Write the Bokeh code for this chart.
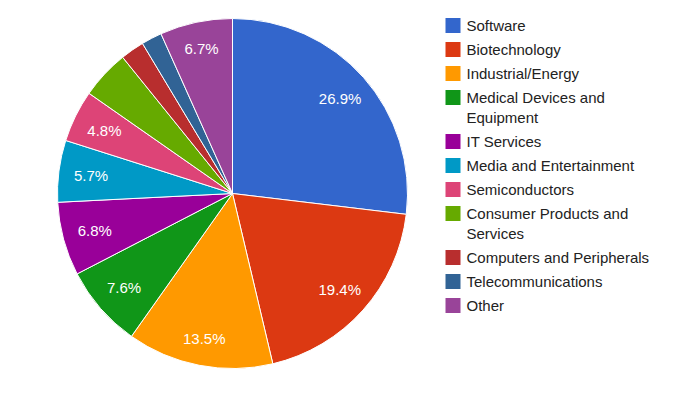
import math
from bokeh.plotting import figure
from bokeh.models import Range1d, ColumnDataSource
from bokeh.core.properties import value
from bokeh.embed import file_html
from bokeh.resources import INLINE

categories = ["Software", "Biotechnology", "Industrial/Energy", "Medical Devices and\nEquipment",
              "IT Services", "Media and Entertainment", "Semiconductors",
              "Consumer Products and\nServices", "Computers and Peripherals",
              "Telecommunications", "Other"]
values = [26.9, 19.4, 13.5, 7.6, 6.8, 5.7, 4.8, 4.5, 2.2, 1.9, 6.7]
colors = ["#3366cc", "#dc3912", "#ff9900", "#109618", "#990099", "#0099c6",
          "#dd4477", "#66aa00", "#b82e2e", "#316395", "#994499"]
label_threshold = 4.7

W, H = 676, 380
FONT = value("Liberation Sans")
CX, CY, R = 232, 396 - 193, 175

p = figure(width=W, height=H, output_backend="svg", toolbar_location=None,
           x_range=Range1d(0, W), y_range=Range1d(396 - H, 396),
           min_border=0)
p.axis.visible = False
p.grid.visible = False
p.outline_line_color = None
p.background_fill_color = "white"

total = sum(values)
starts, ends, lx, ly, ltxt = [], [], [], [], []
cum = 0.0
for v in values:
    f0 = cum / total
    cum += v
    f1 = cum / total
    starts.append(math.pi / 2 - 2 * math.pi * f0)
    ends.append(math.pi / 2 - 2 * math.pi * f1)
    if v >= label_threshold:
        mid = (f0 + f1) / 2 * 2 * math.pi
        c = math.cos(mid)
        d = R * 0.815 + 6 * c ** 4
        lx.append(CX + d * math.sin(mid))
        ly.append(CY + d * math.cos(mid))
        ltxt.append(f"{v / total * 100:.1f}%")

src = ColumnDataSource(dict(start=starts, end=ends, color=colors))
p.wedge(x=CX, y=CY, radius=R, start_angle="start", end_angle="end",
        direction="clock", fill_color="color", line_color="white",
        line_width=1, source=src)

p.text(x=lx, y=ly, text=ltxt, text_color="white", text_font=FONT,
       text_font_size="15px", text_align="center", text_baseline="middle")

# legend
sq_x, tx_x = 452.5, 466
y = 25
rx, ry, rc, tx, ty, tt = [], [], [], [], [], []
for cat, col in zip(categories, colors):
    rx.append(sq_x); ry.append(396 - y); rc.append(col)
    lines = cat.split("\n")
    for j, line in enumerate(lines):
        tx.append(tx_x); ty.append(396 - (y + 20 * j)); tt.append(line)
    y += 24 + 20 * (len(lines) - 1)

p.rect(x=rx, y=ry, width=15, height=15, fill_color=rc, line_color=None)
p.text(x=tx, y=ty, text=tt, text_color="#222222", text_font=FONT,
       text_font_size="15px", text_align="left", text_baseline="middle")

open("out.html", "w").write(file_html(p, INLINE))
